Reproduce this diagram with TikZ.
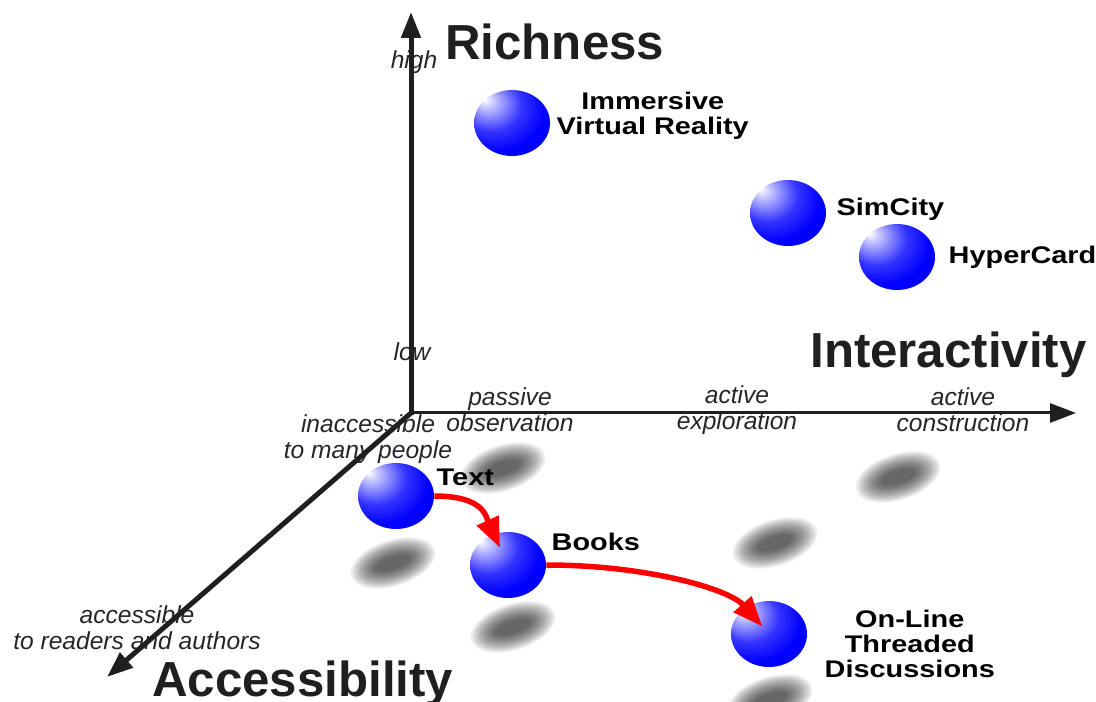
\documentclass[tikz,border=0pt]{standalone}
\usepackage{fontspec}
\setmainfont{Liberation Sans}
\newfontfamily\widesans[FakeStretch=1.2]{Liberation Sans}
\usetikzlibrary{arrows.meta,positioning,shapes.geometric}

\pgfdeclareradialshading{bluesphere}{\pgfqpoint{-18bp}{18bp}}{%
  color(0bp)=(white); color(5bp)=(blue!22!white); color(20bp)=(blue!80!white);
  color(32bp)=(blue); color(80bp)=(blue!92!black)}

\begin{document}
\begin{tikzpicture}[x=0.02cm,y=-0.02cm]
    \tikzstyle{medium}=[ellipse,shading=bluesphere,minimum width=1.52cm,minimum height=1.32cm,inner sep=0pt]
    \tikzstyle{medium name}=[font=\widesans\fontsize{13.7}{14.2}\selectfont\bfseries,align=center,inner sep=0pt]
    \tikzstyle{axis}=[draw=black!88,-{Triangle[length=0.52cm,width=0.38cm]}]
    \tikzstyle{axis title}=[font=\fontsize{28}{30}\selectfont\bfseries,text=black!88,inner sep=0pt]
    \tikzstyle{axis note}=[font=\fontsize{14}{14.6}\selectfont\itshape,text=black!85,align=center,inner sep=0pt]
    \tikzstyle{shift arrow}=[draw=red,line width=0.11cm,-{Triangle[length=0.6cm,width=0.46cm]}]

    \useasboundingbox (0,0) rectangle (1096,702);
    \clip (0,0) rectangle (1096,702);

    % Draw the blurred shadows on the floor
    \foreach \x/\y in {503/468,393/563,513/627,775/543,898/477,770/700}
        \foreach \k in {0,...,15}
            \fill[black,opacity=0.055,rotate around={18:(\x,\y)}]
                (\x,\y) ellipse ({44-1.75*\k} and {23-1.1*\k});

    % Annotate the axes
    \node[axis title,anchor=base west] (rich) at (445,60) {Richness};
    \node[axis title,anchor=base west] (inter) at (810,368) {Interactivity};
    \node[axis title,anchor=base west] (access) at (152,696) {Accessibility};

    \node[axis note] (high) at (414,62) {high};
    \node[axis note] (low) at (412,352) {low};
    \node[axis note] (passive) at (510,410) {passive\\observation};
    \node[axis note] (explore) at (737,410) {active\\exploration};
    \node[axis note] (build) at (963,410) {active\\construction};
    \node[axis note] (closed) at (368,439) {inaccessible\\to many people};
    \node[axis note] (open) at (137,628) {accessible\\to readers and authors};

    % Draw the three axes from the origin
    \coordinate (O) at (411,413);
    \coordinate (R) at (411,12);
    \coordinate (I) at (1076,413);
    \coordinate (A) at (107,677);
    \draw[axis,line width=0.1cm] ([yshift=-0.05cm]O) -- (R);
    \draw[axis,line width=0.06cm] (O) -- (I);
    \draw[axis,line width=0.1cm] (O) -- (A);

    % Draw the media
    \node[medium] (VR) at (512,123) {};
    \node[medium] (Sim) at (788,213) {};
    \node[medium] (Hyper) at (897,257) {};
    \node[medium] (Text) at (396,496) {};
    \node[medium] (Books) at (508,565) {};
    \node[medium] (Forum) at (769,634) {};

    \node[medium name,right=0.12cm of VR,yshift=0.14cm] {Immersive\\Virtual Reality};
    \node[medium name,right=0.2cm of Sim,yshift=0.08cm] {SimCity};
    \node[medium name,right=0.26cm of Hyper] {HyperCard};
    \node[medium name,right=0.04cm of Text,yshift=0.38cm] {Text};
    \node[medium name,right=0.1cm of Books,yshift=0.46cm] {Books};
    \node[medium name,right=0.34cm of Forum,yshift=-0.2cm] {On-Line\\Threaded\\Discussions};

    % Connect the media along the shift
    \draw[shift arrow,shorten >=0.38cm] (Text.east) .. controls +(50,0) and +(-22,-48) .. (Books.center);
    \draw[shift arrow,shorten >=0.2cm] (Books.east) .. controls +(100,0) and +(-40,-45) .. (Forum.center);

\end{tikzpicture}
\end{document}
